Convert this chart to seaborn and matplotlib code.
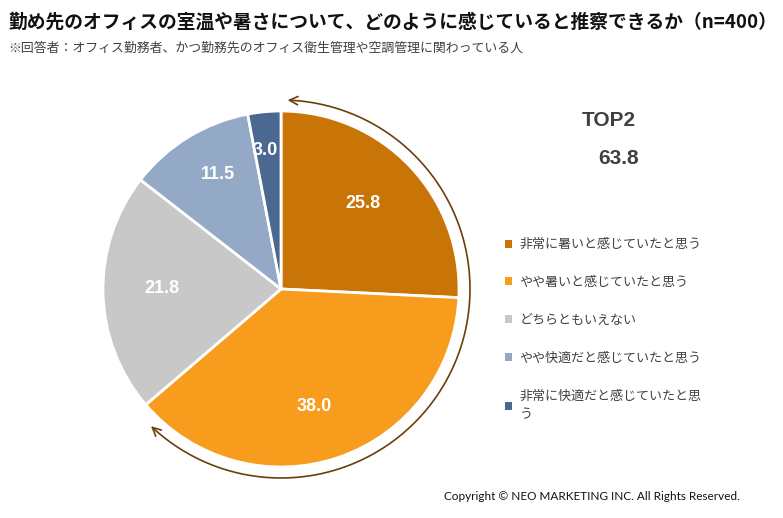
import textwrap
import numpy as np
import matplotlib
matplotlib.use("Agg")
import matplotlib.pyplot as plt
from matplotlib.path import Path
from matplotlib.patches import FancyArrowPatch
import seaborn as sns

sns.set_theme(style="white")
plt.rcParams['font.family'] = ['Noto Sans CJK JP', 'DejaVu Sans']

title = "勤め先のオフィスの室温や暑さについて、どのように感じていると推察できるか（n=400）"
subtitle = "※回答者：オフィス勤務者、かつ勤務先のオフィス衛生管理や空調管理に関わっている人"
categories = ["非常に暑いと感じていたと思う", "やや暑いと感じていたと思う", "どちらともいえない",
              "やや快適だと感じていたと思う", "非常に快適だと感じていたと思う"]
values = [25.8, 38.0, 21.8, 11.5, 3.0]
colors = ["#C87406", "#F79C1C", "#C8C8C8", "#93A9C6", "#4A6890"]
top2_label = "TOP2"
top2_value = 63.8
copyright_text = "Copyright © NEO MARKETING INC. All Rights Reserved."

W, H = 783, 518
fig = plt.figure(figsize=(W / 100, H / 100), dpi=100)
ax = fig.add_axes([0, 0, 1, 1])

cx, cy, r = 281, H - 289, 178
wedges, _ = ax.pie(values, colors=colors, startangle=90, counterclock=False,
                   center=(cx, cy), radius=r, frame=True,
                   wedgeprops=dict(edgecolor="white", linewidth=2))
ax.set_xlim(0, W)
ax.set_ylim(0, H)
ax.axis("off")

dists = [0.67, 0.68, 0.67, 0.74, 0.79]
offs = [3, -3, -2, -3, 1]
for w, v, d, o in zip(wedges, values, dists, offs):
    ang = np.deg2rad((w.theta1 + w.theta2) / 2 + o)
    ax.text(cx + d * r * np.cos(ang), cy + d * r * np.sin(ang) - 1, f"{v:.1f}",
            ha="center", va="center", color="white", fontsize=13, fontweight="bold",
            family=["Liberation Sans", "DejaVu Sans"])

# TOP2 arc spanning the first two wedges
t_start = wedges[0].theta2 - 2
t_end = wedges[1].theta1 + 6
ra = 189
ts = np.deg2rad(np.linspace(t_start, t_end, 120))
verts = np.column_stack([cx + ra * np.cos(ts), cy + ra * np.sin(ts)])
arc = FancyArrowPatch(path=Path(verts), arrowstyle="<->,head_length=6,head_width=3",
                      color="#6B3F0A", linewidth=1.2, mutation_scale=1)
ax.add_patch(arc)

ax.text(609, H - 120, top2_label, ha="center", va="center", fontsize=15, fontweight="bold",
        color="#404040", family=["Liberation Sans", "DejaVu Sans"])
ax.text(619, H - 158, f"{top2_value:.1f}", ha="center", va="center", fontsize=15,
        fontweight="bold", color="#404040", family=["Liberation Sans", "DejaVu Sans"])

fig.text(8 / W, 1 - 22 / H, title, ha="left", va="center", fontsize=13.5, fontweight="bold",
         color="#111111")
fig.text(8 / W, 1 - 48 / H, subtitle, ha="left", va="center", fontsize=9.3, color="#404040")

leg_labels = [textwrap.fill(c, 14) for c in categories]
leg = ax.legend(wedges, leg_labels, loc="upper left", bbox_to_anchor=(500 / W, 1 - 233 / H),
                frameon=False, fontsize=9.4, handlelength=0.55, handleheight=0.55,
                handletextpad=0.55, labelspacing=1.9, borderaxespad=0)
for t in leg.get_texts():
    t.set_color("#404040")
leg.get_texts()[-1].set_linespacing(1.6)
for h in leg.legend_handles:
    h.set_edgecolor("none")

fig.text(740 / W, 1 - 497 / H, copyright_text, ha="right", va="center", fontsize=8.5,
         color="#111111", family=["Lato", "DejaVu Sans"])

fig.savefig("out.png", dpi=100, facecolor="white")
